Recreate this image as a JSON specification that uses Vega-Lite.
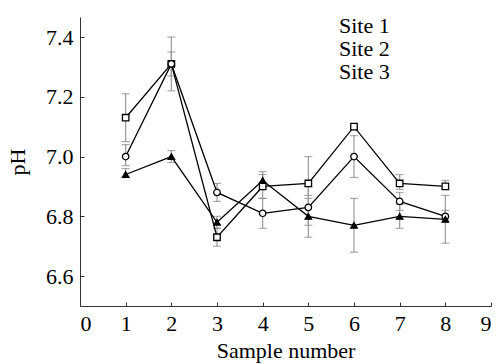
{
  "$schema": "https://vega.github.io/schema/vega-lite/v6.json",
  "width": 411,
  "height": 289,
  "autosize": {"type": "none"},
  "padding": {"left": 80, "top": 17, "right": 6, "bottom": 58},
  "background": "white",
  "config": {
    "view": {"stroke": null},
    "font": "Liberation Serif",
    "axis": {
      "labelFont": "Liberation Serif",
      "titleFont": "Liberation Serif",
      "labelFontSize": 22,
      "titleFontSize": 22,
      "titleFontWeight": "normal",
      "labelColor": "black",
      "titleColor": "black",
      "domainColor": "#333",
      "tickColor": "#333",
      "grid": false,
      "tickSize": -4,
      "labelPadding": 11
    },
    "legend": {
      "labelFont": "Liberation Serif",
      "labelFontSize": 22,
      "labelColor": "black"
    }
  },
  "data": {
    "values": [
      {"site": "Site 1", "sample": 1, "ph": 7.13, "lo": 7.05, "hi": 7.21},
      {"site": "Site 1", "sample": 2, "ph": 7.31, "lo": 7.22, "hi": 7.40},
      {"site": "Site 1", "sample": 3, "ph": 6.73, "lo": 6.70, "hi": 6.76},
      {"site": "Site 1", "sample": 4, "ph": 6.90, "lo": 6.86, "hi": 6.94},
      {"site": "Site 1", "sample": 5, "ph": 6.91, "lo": 6.87, "hi": 7.00},
      {"site": "Site 1", "sample": 6, "ph": 7.10, "lo": 7.09, "hi": 7.11},
      {"site": "Site 1", "sample": 7, "ph": 6.91, "lo": 6.89, "hi": 6.94},
      {"site": "Site 1", "sample": 8, "ph": 6.90, "lo": 6.89, "hi": 6.92},
      {"site": "Site 2", "sample": 1, "ph": 7.00, "lo": 6.97, "hi": 7.04},
      {"site": "Site 2", "sample": 2, "ph": 7.31, "lo": 7.27, "hi": 7.35},
      {"site": "Site 2", "sample": 3, "ph": 6.88, "lo": 6.85, "hi": 6.91},
      {"site": "Site 2", "sample": 4, "ph": 6.81, "lo": 6.76, "hi": 6.86},
      {"site": "Site 2", "sample": 5, "ph": 6.83, "lo": 6.73, "hi": 6.90},
      {"site": "Site 2", "sample": 6, "ph": 7.00, "lo": 6.93, "hi": 7.07},
      {"site": "Site 2", "sample": 7, "ph": 6.85, "lo": 6.82, "hi": 6.88},
      {"site": "Site 2", "sample": 8, "ph": 6.80, "lo": 6.79, "hi": 6.82},
      {"site": "Site 3", "sample": 1, "ph": 6.94, "lo": 6.93, "hi": 6.96},
      {"site": "Site 3", "sample": 2, "ph": 7.00, "lo": 6.98, "hi": 7.02},
      {"site": "Site 3", "sample": 3, "ph": 6.78, "lo": 6.76, "hi": 6.80},
      {"site": "Site 3", "sample": 4, "ph": 6.92, "lo": 6.89, "hi": 6.95},
      {"site": "Site 3", "sample": 5, "ph": 6.80, "lo": 6.77, "hi": 6.86},
      {"site": "Site 3", "sample": 6, "ph": 6.77, "lo": 6.68, "hi": 6.86},
      {"site": "Site 3", "sample": 7, "ph": 6.80, "lo": 6.76, "hi": 6.84},
      {"site": "Site 3", "sample": 8, "ph": 6.79, "lo": 6.71, "hi": 6.87}
    ]
  },
  "encoding": {
    "x": {
      "field": "sample", "type": "quantitative",
      "scale": {"domain": [0, 9], "nice": false},
      "axis": {"values": [0,1,2,3,4,5,6,7,8,9], "title": "Sample number", "titlePadding": 6}
    }
  },
  "layer": [
    {
      "mark": {"type": "rule", "color": "#999", "strokeWidth": 1.2},
      "encoding": {
        "y": {"field": "lo", "type": "quantitative"},
        "y2": {"field": "hi"}
      }
    },
    {
      "mark": {"type": "tick", "orient": "horizontal", "color": "#888", "size": 8, "thickness": 1.2},
      "encoding": {"y": {"field": "lo", "type": "quantitative"}}
    },
    {
      "mark": {"type": "tick", "orient": "horizontal", "color": "#888", "size": 8, "thickness": 1.2},
      "encoding": {"y": {"field": "hi", "type": "quantitative"}}
    },
    {
      "mark": {"type": "line", "color": "black", "strokeWidth": 1.3},
      "encoding": {
        "y": {"field": "ph", "type": "quantitative"},
        "detail": {"field": "site"}
      }
    },
    {
      "mark": {"type": "point", "filled": true, "stroke": "black", "strokeWidth": 1.3, "opacity": 1, "size": 42},
      "encoding": {
        "y": {
          "field": "ph", "type": "quantitative",
          "scale": {"domain": [6.5, 7.467], "nice": false, "zero": false},
          "axis": {"values": [6.6, 6.8, 7.0, 7.2, 7.4], "format": ".1f", "title": "pH", "titlePadding": 16}
        },
        "fill": {
          "condition": {"test": "datum.site === 'Site 3'", "value": "black"},
          "value": "white"
        },
        "shape": {
          "field": "site", "type": "nominal",
          "scale": {"domain": ["Site 1", "Site 2", "Site 3"], "range": ["square", "circle", "triangle-up"]},
          "legend": {
            "title": null,
            "orient": "none",
            "legendX": 232,
            "legendY": 0,
            "padding": 0,
            "symbolSize": 400,
            "symbolStrokeWidth": 1.2,
            "symbolStrokeColor": "black",
            "labelOffset": 5,
            "clipHeight": 18,
            "rowPadding": 1,
            "encode": {
              "symbols": {
                "shape": {
                  "condition": [
                    {"test": "datum.value === 'Site 1'", "value": "M-1,0H-0.28M0.28,0H1M-0.28,-0.28H0.28V0.28H-0.28Z"},
                    {"test": "datum.value === 'Site 2'", "value": "M-1,0H-0.3M0.3,0H1M-0.3,0A0.3,0.3,0,1,0,0.3,0A0.3,0.3,0,1,0,-0.3,0Z"}
                  ],
                  "value": "M-1,0H1M-0.4,0.26L0,-0.4L0.4,0.26Z"
                },
                "fill": {
                  "condition": {"test": "datum.value === 'Site 3'", "value": "black"},
                  "value": "white"
                },
                "stroke": {"value": "black"},
                "strokeWidth": {"value": 1.2}
              }
            }
          }
        }
      }
    }
  ]
}
